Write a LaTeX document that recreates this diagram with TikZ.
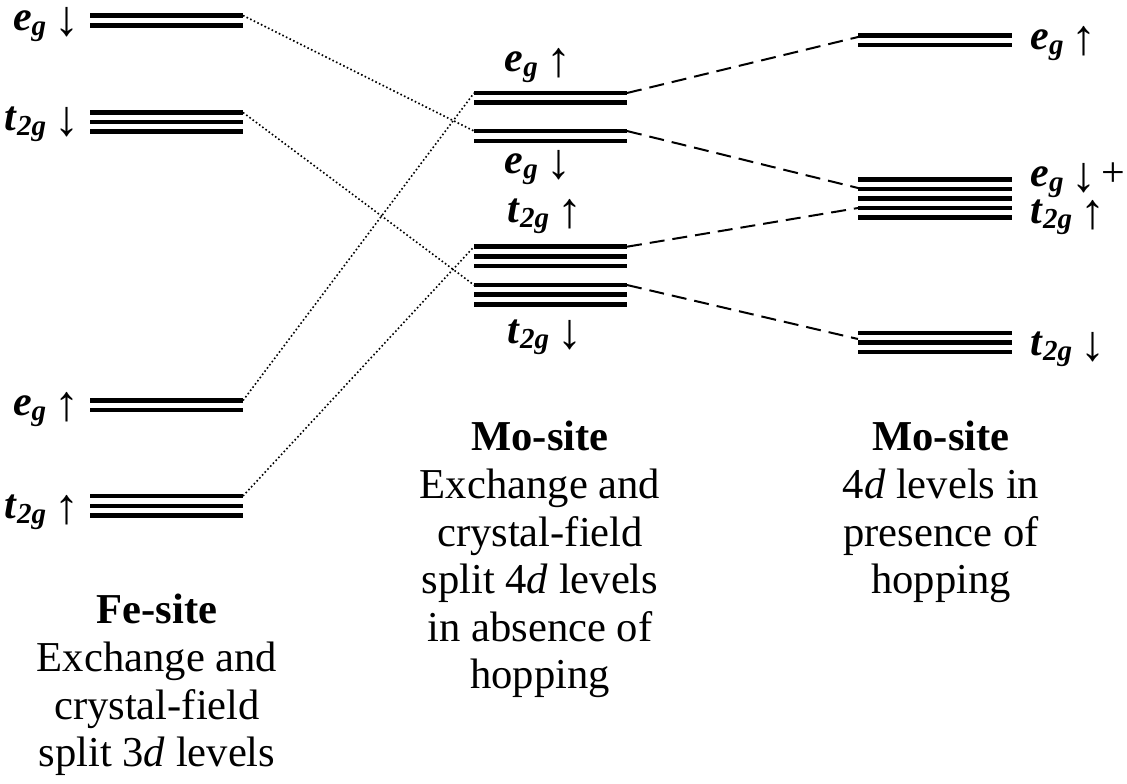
\documentclass[tikz,border=0pt]{standalone}
\usepackage{fontspec}
\setmainfont{Liberation Serif}
\usepackage{tikz}
\usetikzlibrary{positioning}
\tikzstyle{lvl} = [line width=2.4pt]
\tikzstyle{bareline} = [line width=0.8pt, dash pattern=on 0.8pt off 1.2pt]
\tikzstyle{hopline} = [line width=1pt, dash pattern=on 7.5pt off 4pt]
\tikzstyle{orb} = [inner sep=0pt, font=\fontsize{21}{23}\selectfont]
\tikzstyle{sitetext} = [inner sep=0pt, align=center, anchor=north,
font=\fontsize{21.3}{23.8}\selectfont]
\newcommand{\orbl}[3]{\textbf{\textit{#1}}\raisebox{-2.5pt}{\fontsize{14.5}{16}\selectfont\bfseries\itshape #2}\hspace{0.2em}\raisebox{-2.5pt}{\fontsize{25}{25}\selectfont\mdseries\upshape #3}}

\begin{document}
\begin{tikzpicture}[x=0.5pt,y=-0.5pt]
        \useasboundingbox (0,0) rectangle (1127,783);
        % Fe-site levels
        \foreach \y in {15.5,25.5,400.5,410}
            \draw[lvl] (90,\y) -- (243,\y);
        \foreach \y in {112.5,122,131.5,496,506,515.5}
            \draw[lvl] (90,\y) -- (243,\y);
        \coordinate (feEgDn) at (243,15.5);
        \coordinate (feTgDn) at (243,112.5);
        \coordinate (feEgUp) at (243,400.5);
        \coordinate (feTgUp) at (243,496);
        % Mo-site levels without hopping
        \foreach \y in {93,102.5,131,141}
            \draw[lvl] (474,\y) -- (627,\y);
        \foreach \y in {246.7,256.3,266,285,294.7,304.3}
            \draw[lvl] (474,\y) -- (627,\y);
        \coordinate (moEgUpL) at (474,93);
        \coordinate (moEgDnL) at (474,131);
        \coordinate (moTgUpL) at (474,246.7);
        \coordinate (moTgDnL) at (474,285);
        \coordinate (moEgUpR) at (627,93);
        \coordinate (moEgDnR) at (627,131);
        \coordinate (moTgUpR) at (627,246.7);
        \coordinate (moTgDnR) at (627,285);
        % Mo-site levels with hopping
        \foreach \y in {35.5,45,179.7,189,198.5,208,217.5,333,342.3,352}
            \draw[lvl] (858,\y) -- (1012,\y);
        \coordinate (hpEgUp) at (858,37);
        \coordinate (hpMixA) at (858,188);
        \coordinate (hpMixB) at (858,208);
        \coordinate (hpTgDn) at (858,339);

        % connectors
        \draw[bareline] (feEgDn) -- (moEgDnL);
        \draw[bareline] (feTgDn) -- (moTgDnL);
        \draw[bareline] (feEgUp) -- (moEgUpL);
        \draw[bareline] (feTgUp) -- (moTgUpL);
        \draw[hopline] (moEgUpR) -- (hpEgUp);
        \draw[hopline] (moEgDnR) -- (hpMixA);
        \draw[hopline] (moTgUpR) -- (hpMixB);
        \draw[hopline] (moTgDnR) -- (hpTgDn);

        % level labels
        \node[orb, anchor=base east] (lFeEgDn) at (80,30) {\orbl{e}{g}{↓}};
        \node[orb, anchor=base east] (lFeTgDn) at (80,130) {\orbl{t}{2g}{↓}};
        \node[orb, anchor=base east] (lFeEgUp) at (80,415) {\orbl{e}{g}{↑}};
        \node[orb, anchor=base east] (lFeTgUp) at (80,518) {\orbl{t}{2g}{↑}};
        \node[orb, anchor=base] (lMoEgUp) at (538,71) {\orbl{e}{g}{↑}};
        \node[orb, anchor=base] (lMoEgDn) at (538,173) {\orbl{e}{g}{↓}};
        \node[orb, anchor=base] (lMoTgUp) at (545,222) {\orbl{t}{2g}{↑}};
        \node[orb, anchor=base] (lMoTgDn) at (545,343) {\orbl{t}{2g}{↓}};
        \node[orb, anchor=base west] (lHpEgUp) at (1030,49) {\orbl{e}{g}{↑}};
        \node[orb, anchor=base west] (lHpMixA) at (1030,186) {\orbl{e}{g}{↓}\hspace{0.1em}+};
        \node[orb, anchor=base west] (lHpMixB) at (1030,223) {\orbl{t}{2g}{↑}};
        \node[orb, anchor=base west] (lHpTgDn) at (1030,355) {\orbl{t}{2g}{↓}};

        % site captions
        \node[sitetext] (feText) at (157,594) {\textbf{Fe-site}\\Exchange and\\crystal-field\\split 3\textit{d} levels};
        \node[sitetext] (moText) at (540,421) {\textbf{Mo-site}\\Exchange and\\crystal-field\\split 4\textit{d} levels\\in absence of\\hopping};
        \node[sitetext] (hpText) at (941,421) {\textbf{Mo-site}\\4\textit{d} levels in\\presence of\\hopping};
    \end{tikzpicture}
\end{document}
